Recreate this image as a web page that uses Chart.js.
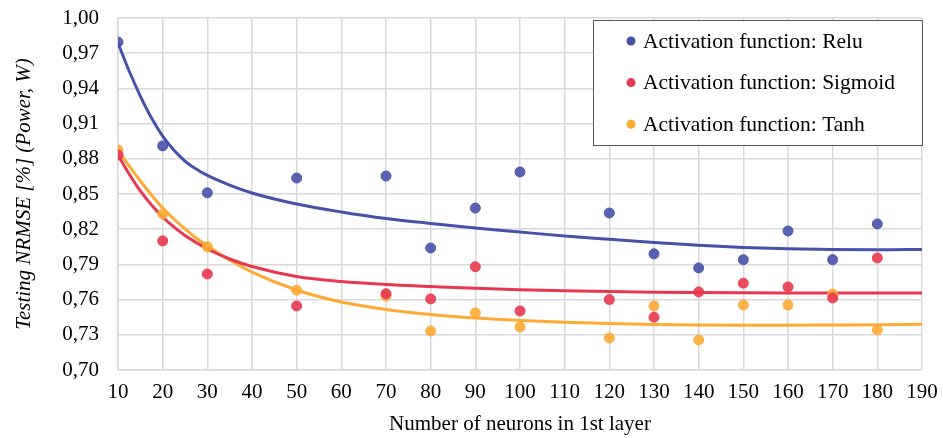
<!DOCTYPE html>
<html>
<head>
<meta charset="utf-8">
<script src="https://cdn.jsdelivr.net/npm/chart.js@4"></script>
<style>
  html, body { margin: 0; padding: 0; background: #fff; }
  #wrap { width: 943px; height: 438px; }
</style>
</head>
<body>
<div id="wrap"><canvas id="nrmseChart"></canvas></div>
<script>
// measured points (neurons in 1st layer -> testing NRMSE)
const neurons = [10, 20, 30, 50, 70, 80, 90, 100, 120, 130, 140, 150, 160, 170, 180];
const reluVals = [0.9795, 0.891, 0.851, 0.8636, 0.8653, 0.804, 0.838, 0.8688, 0.8338, 0.799, 0.787, 0.794, 0.8185, 0.794, 0.8245];
const sigmoidVals = [0.8833, 0.810, 0.7818, 0.7546, 0.765, 0.7606, 0.788, 0.7503, 0.760, 0.745, 0.7665, 0.774, 0.7708, 0.7614, 0.7955];
const tanhVals = [0.8875, 0.833, 0.805, 0.768, 0.763, 0.7333, 0.7487, 0.7367, 0.7273, 0.7546, 0.7256, 0.7554, 0.7554, 0.7648, 0.7342];

// trend curves
const trendX = [10, 12.5, 15, 17.5, 20, 22.5, 25, 27.5, 30, 35, 40, 50, 60, 70, 80, 90, 100, 110, 120, 130, 140, 150, 160, 170, 180, 190];
const reluTrend = [0.9787, 0.9548, 0.9335, 0.9148, 0.8994, 0.8875, 0.8781, 0.8713, 0.8658, 0.8576, 0.8509, 0.8415, 0.8347, 0.8291, 0.8249, 0.8210, 0.8176, 0.8142, 0.8114, 0.8087, 0.8063, 0.8045, 0.8033, 0.8026, 0.8024, 0.8028];
const sigmoidTrend = [0.8832, 0.8670, 0.8526, 0.8406, 0.8304, 0.8219, 0.8146, 0.8087, 0.8031, 0.7946, 0.7882, 0.7797, 0.7754, 0.7729, 0.7712, 0.7696, 0.7684, 0.7675, 0.7668, 0.7663, 0.7660, 0.7658, 0.7657, 0.7657, 0.7657, 0.7657];
const tanhTrend = [0.8875, 0.8739, 0.8611, 0.8492, 0.8381, 0.8287, 0.8202, 0.8125, 0.8057, 0.7938, 0.7835, 0.7682, 0.7580, 0.7516, 0.7473, 0.7443, 0.7422, 0.7407, 0.7396, 0.7388, 0.7384, 0.7382, 0.7382, 0.7384, 0.7386, 0.7390];

const seriesNames = ['Activation function: Relu', 'Activation function: Sigmoid', 'Activation function: Tanh'];
const xTicks = [10, 20, 30, 40, 50, 60, 70, 80, 90, 100, 110, 120, 130, 140, 150, 160, 170, 180, 190];
const yTicks = [0.70, 0.73, 0.76, 0.79, 0.82, 0.85, 0.88, 0.91, 0.94, 0.97, 1.00];

const BLUE = '#4652a8';
const RED = '#e8384f';
const ORANGE = '#fdab35';
const FONT = 'Liberation Serif';

const pts = (xs, ys) => xs.map((x, i) => ({ x: x, y: ys[i] }));

const pointSet = (label, vals, color) => ({
  label: label,
  data: pts(neurons, vals),
  showLine: false,
  pointRadius: 5,
  pointHoverRadius: 5,
  pointBackgroundColor: color + 'e6',
  pointBorderColor: color + 'e6',
  pointBorderWidth: 1,
  order: 1
});

const trendSet = (vals, color) => ({
  label: '',
  data: pts(trendX, vals),
  showLine: true,
  borderColor: color,
  borderWidth: 3,
  pointRadius: 0,
  cubicInterpolationMode: 'monotone',
  order: 2
});

// legend box drawn inside the plot, top right
const boxLegend = {
  id: 'boxLegend',
  afterDraw(chart) {
    const { ctx } = chart;
    const colors = [BLUE, RED, ORANGE];
    const x0 = 593.5, y0 = 20.5, w = 329, h = 125;
    ctx.save();
    ctx.fillStyle = '#fff';
    ctx.fillRect(x0, y0, w, h);
    ctx.strokeStyle = '#595959';
    ctx.lineWidth = 1;
    ctx.strokeRect(x0, y0, w, h);
    ctx.font = '21.5px "' + FONT + '"';
    ctx.textBaseline = 'middle';
    seriesNames.forEach((name, i) => {
      const cy = 41 + i * 41.6;
      ctx.beginPath();
      ctx.arc(631, cy, 4.5, 0, Math.PI * 2);
      ctx.fillStyle = colors[i];
      ctx.fill();
      ctx.fillStyle = '#000';
      ctx.fillText(name, 643, cy + 1);
    });
    ctx.restore();
  }
};

const ctx = document.getElementById('nrmseChart').getContext('2d');

new Chart(ctx, {
  type: 'scatter',
  data: {
    datasets: [
      pointSet(seriesNames[0], reluVals, BLUE),
      pointSet(seriesNames[1], sigmoidVals, RED),
      pointSet(seriesNames[2], tanhVals, ORANGE),
      trendSet(reluTrend, BLUE),
      trendSet(sigmoidTrend, RED),
      trendSet(tanhTrend, ORANGE)
    ]
  },
  options: {
    responsive: true,
    maintainAspectRatio: false,
    animation: false,
    layout: { padding: { top: 18, right: 21, left: 0, bottom: 0 } },
    plugins: {
      legend: { display: false },
      tooltip: { enabled: false }
    },
    scales: {
      x: {
        type: 'linear',
        min: 10,
        max: 190,
        afterBuildTicks: (scale) => {
          scale.ticks = xTicks.map(v => ({ value: v }));
        },
        afterFit: (scale) => {
          scale.height = 68;
          scale.paddingLeft = 0;
          scale.paddingRight = 0;
        },
        grid: { color: '#d9d9d9', lineWidth: 1.5, drawTicks: false },
        border: { color: '#d9d9d9', width: 1.5 },
        ticks: {
          padding: 10,
          color: '#000',
          maxRotation: 0,
          autoSkip: false,
          font: { family: FONT, size: 21 }
        },
        title: {
          display: true,
          text: 'Number of neurons in 1st layer',
          color: '#000',
          padding: { top: 0, bottom: 1 },
          font: { family: FONT, size: 21 }
        }
      },
      y: {
        min: 0.70,
        max: 1.00,
        afterBuildTicks: (scale) => {
          scale.ticks = yTicks.map(v => ({ value: v }));
        },
        afterFit: (scale) => {
          scale.width = 118;
          scale.paddingTop = 0;
          scale.paddingBottom = 0;
        },
        grid: { color: '#d9d9d9', lineWidth: 1.5, drawTicks: false },
        border: { color: '#d9d9d9', width: 1.5 },
        ticks: {
          padding: 19,
          color: '#000',
          font: { family: FONT, size: 21 },
          callback: (v) => Number(v).toFixed(2).replace('.', ',')
        },
        title: {
          display: true,
          text: 'Testing NRMSE [%] (Power, W)',
          color: '#000',
          padding: { top: 12, bottom: 0 },
          font: { family: FONT, size: 21, style: 'italic' }
        }
      }
    }
  },
  plugins: [boxLegend]
});
</script>
</body>
</html>
